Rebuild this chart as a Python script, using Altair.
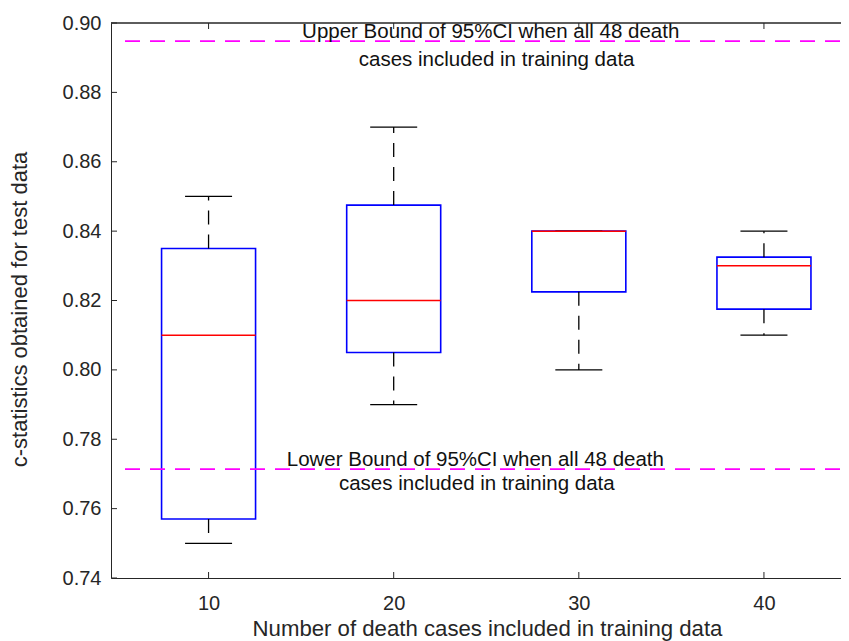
import altair as alt
import pandas as pd

# ---- data ----
groups = [10, 20, 30, 40]
whisker_low = [0.750, 0.790, 0.800, 0.810]
q1 = [0.757, 0.805, 0.8225, 0.8175]
median = [0.810, 0.820, 0.840, 0.830]
q3 = [0.835, 0.8475, 0.840, 0.8325]
whisker_high = [0.850, 0.870, 0.840, 0.840]

bound_values = [0.8948, 0.7714]

note_lines = [
    "Upper Bound of 95%CI when all 48 death",
    "cases included in training data",
    "Lower Bound of 95%CI when all 48 death",
    "cases included in training data",
]
note_x = [25.24, 25.56, 24.41, 24.49]
note_y = [0.8956, 0.8876, 0.7723, 0.7654]

y_ticks = [0.74, 0.76, 0.78, 0.80, 0.82, 0.84, 0.86, 0.88, 0.90]
x_ticks = groups

# ---- layout ----
W, H = 730, 555
FONT = "Liberation Sans"
AX = "#262626"

boxes = pd.DataFrame({"g": groups, "lo": whisker_low, "q1": q1, "med": median,
                      "q3": q3, "hi": whisker_high})
bounds = pd.DataFrame({"v": bound_values})
notes = pd.DataFrame({"t": note_lines, "x": note_x, "y": note_y})
yt = pd.DataFrame({"v": y_ticks})
xt = pd.DataFrame({"v": x_ticks})

xs = alt.Scale(domain=[5, 5 + W / 18.77], nice=False, zero=False)
ys = alt.Scale(domain=[0.74, 0.90], nice=False, zero=False)

x_axis = alt.Axis(values=x_ticks, grid=False, ticks=False, domain=True, domainColor=AX,
                  domainWidth=1,
                  labelFontSize=20, labelColor=AX, labelFont=FONT, labelPadding=15,
                  title="Number of death cases included in training data",
                  titleFontSize=22.2, titleFontWeight="normal", titleColor=AX, titleFont=FONT,
                  titleX=376, titleY=57, titleBaseline="alphabetic", titleAlign="center")
y_axis = alt.Axis(values=y_ticks, format=".2f", grid=False, ticks=False, domain=True,
                  domainColor=AX, domainWidth=1,
                  labelFontSize=20, labelColor=AX, labelFont=FONT,
                  labelPadding=10,
                  title="c-statistics obtained for test data",
                  titleFontSize=22, titleFontWeight="normal", titleColor=AX, titleFont=FONT,
                  titleAngle=270, titleX=-85, titleY=286, titleBaseline="alphabetic",
                  titleAlign="center")

base = alt.Chart(boxes)
X = alt.X("g:Q", scale=xs, axis=x_axis)


def Y(f):
    return alt.Y(f, scale=ys, axis=y_axis)


box = base.mark_bar(size=94, fillOpacity=0, stroke="#0000FF", strokeWidth=1.6).encode(
    x=X, y=Y("q1:Q"), y2="q3:Q",
)
whisk_up = base.mark_rule(color="black", strokeWidth=1.3, strokeDash=[14, 10]).encode(
    x=X, y=Y("q3:Q"), y2="hi:Q",
)
whisk_dn = base.mark_rule(color="black", strokeWidth=1.3, strokeDash=[14, 10]).encode(
    x=X, y=Y("q1:Q"), y2="lo:Q",
)
cap_hi = base.mark_tick(orient="horizontal", size=47, thickness=1.3, color="black", opacity=1).encode(
    x=X, y=Y("hi:Q"),
)
cap_lo = base.mark_tick(orient="horizontal", size=47, thickness=1.3, color="black", opacity=1).encode(
    x=X, y=Y("lo:Q"),
)
med = base.mark_tick(orient="horizontal", size=94, thickness=1.5, color="#FF0000", opacity=1).encode(
    x=X, y=Y("med:Q"),
)

bound_lines = alt.Chart(bounds).mark_rule(color="#FF00FF", strokeWidth=1.8, strokeDash=[15, 10]).encode(
    y=Y("v:Q"),
    x=alt.value(14),
    x2=alt.value(W),
)

note_text = alt.Chart(notes).mark_text(align="center", baseline="alphabetic", fontSize=20.5,
                                       font=FONT, color="#111111").encode(
    x=alt.X("x:Q", scale=xs, axis=x_axis),
    y=Y("y:Q"),
    text="t:N",
)

top_line = alt.Chart(bounds).mark_rule(color=AX, strokeWidth=1).encode(
    x=alt.value(0), x2=alt.value(W), y=alt.value(0)
)
ytick_marks = alt.Chart(yt).mark_rule(color=AX, strokeWidth=1).encode(
    y=Y("v:Q"), x=alt.value(0), x2=alt.value(6)
)
xtick_bottom = alt.Chart(xt).mark_rule(color=AX, strokeWidth=1).encode(
    x=alt.X("v:Q", scale=xs, axis=x_axis), y=alt.value(H), y2=alt.value(H - 6)
)
xtick_top = alt.Chart(xt).mark_rule(color=AX, strokeWidth=1).encode(
    x=alt.X("v:Q", scale=xs, axis=x_axis), y=alt.value(0), y2=alt.value(6)
)

chart = alt.layer(
    box, whisk_up, whisk_dn, cap_hi, cap_lo, med, bound_lines, note_text,
    top_line, ytick_marks, xtick_bottom, xtick_top
).properties(
    width=W, height=H,
    autosize=alt.AutoSizeParams(type="none"),
    padding={"left": 103, "top": 15, "right": 0, "bottom": 63},
    background="white",
).configure_view(stroke=None)

chart.save("out.html", embed_options={"renderer": "svg", "actions": False})
